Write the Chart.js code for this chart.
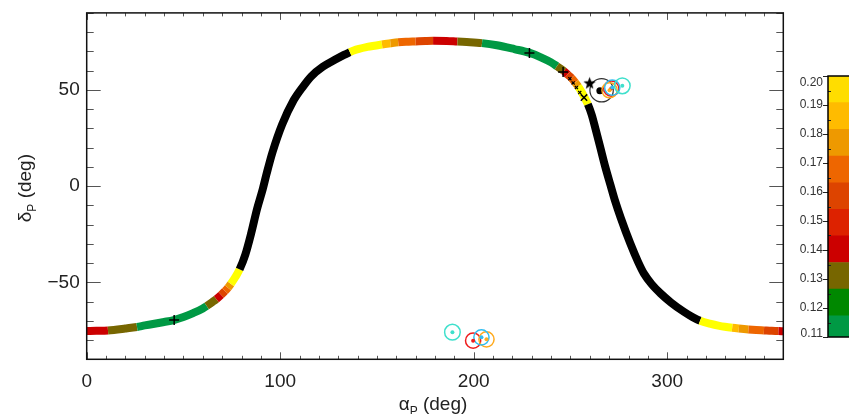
<!DOCTYPE html>
<html><head><meta charset="utf-8">
<script src="https://cdn.jsdelivr.net/npm/chart.js@4/dist/chart.umd.min.js"></script>
<style>
html,body{margin:0;padding:0;background:#fff;overflow:hidden;width:849px;height:414px;}
#wrap{position:relative;width:849px;height:414px;overflow:hidden;background:#fff;}
#main{position:absolute;left:0;top:0;width:849px;height:414px;}
#cbar{position:absolute;left:760px;top:0;width:120px;height:414px;}
</style></head><body>
<div id="wrap">
<canvas id="main" width="849" height="414"></canvas>
<canvas id="cbar" width="120" height="414"></canvas>
</div>
<script>
// ---------- data ----------
const xTicks = [0, 100, 200, 300];
const yTicks = [-50, 0, 50];

// trajectory centre line (alpha_P, delta_P) and colour-coded value (null = black)
const curveAlpha = [0, 5, 11, 20, 26, 30, 40, 45, 50, 55, 60, 62, 65, 67, 69.5, 71.5, 73, 74.5, 77, 79,
  82, 85, 88, 91, 93, 96, 101, 107, 112, 116, 122, 128, 133, 136, 138, 145, 152.6, 157, 161, 165,
  170, 175, 179, 186, 191.6, 198, 204.3, 212, 221, 229, 235, 240, 243, 246.6, 248.5, 250.5, 252.5, 254, 256, 259,
  261, 263, 265.5, 268, 270.7, 273, 276, 281, 285, 288, 292, 296.6, 302, 308.6, 313, 317, 322, 327, 333.6, 337,
  342, 346, 350, 354, 357.5, 360];
const curveDelta = [-75.3, -75.2, -75.0, -74.0, -73.2, -72.4, -70.6, -69.6, -68.0, -66.0, -63.6, -62.3, -60.2, -58.7, -56.5, -54.5, -52.8, -50.8, -47.0, -43.3,
  -35.5, -24.5, -12.0, -1.5, 6.5, 17.5, 32.0, 44.7, 52.0, 57.0, 62.0, 65.5, 68.2, 69.6, 70.5, 72.3, 73.6, 74.2, 74.7, 75.0,
  75.2, 75.4, 75.5, 75.4, 75.1, 74.8, 74.3, 73.2, 71.2, 69.2, 66.8, 64.3, 62.3, 59.8, 58.0, 56.2, 53.8, 51.8, 48.5, 42.5,
  37.0, 29.5, 19.8, 10.0, 0.5, -7.5, -16.5, -30.0, -39.5, -45.5, -51.0, -55.8, -60.5, -65.3, -68.0, -70.0, -71.5, -72.6, -73.6, -74.0,
  -74.5, -74.8, -75.0, -75.2, -75.3, -75.4];
const curveValue = [0.14, 0.14, 0.13, 0.13, 0.114, 0.114, 0.114, 0.114, 0.114, 0.114, 0.114, 0.13, 0.13, 0.14, 0.16, 0.168, 0.177, 0.205, 0.205, null,
  null, null, null, null, null, null, null, null, null, null, null, null, null, 0.205, 0.205, 0.205, 0.186, 0.177, 0.168, 0.168,
  0.16, 0.16, 0.14, 0.14, 0.13, 0.13, 0.114, 0.114, 0.114, 0.114, 0.114, 0.114, 0.13, 0.14, 0.16, 0.168, 0.177, 0.205, 0.205, null,
  null, null, null, null, null, null, null, null, null, null, null, null, null, null, null, 0.205, 0.205, 0.205, 0.186, 0.177,
  0.168, 0.168, 0.16, 0.16, 0.14, 0.14];

// markers
const plusAlpha = [45.2, 228.8, 246.2];
const plusDelta = [-69.6, 69.2, 59.3];
const smallXAlpha = [249.7, 251.4, 253.1, 254.8];
const smallXDelta = [55.8, 53.6, 51.2, 48.6];
const bigXAlpha = [257.0];
const bigXDelta = [46.0];
const starAlpha = [259.9];
const starDelta = [53.6];
const blackRingAlpha = [266.1];
const blackRingDelta = [49.8];
const blackDotAlpha = [265.2];
const blackDotDelta = [49.6];
const turqAlpha = [276.8, 189.0];
const turqDelta = [52.1, -75.9];
const redAlpha = [271.1, 199.7];
const redDelta = [50.7, -80.3];
const skyAlpha = [271.6, 204.0];
const skyDelta = [51.2, -78.6];
const orangeAlpha = [270.2, 206.6];
const orangeDelta = [49.8, -79.6];

// colour bar
const cbEdges = [0.11, 0.1173, 0.1265, 0.1357, 0.1449, 0.1540, 0.1632, 0.1724, 0.1816, 0.1908, 0.20];
const cbColors = ['#009944', '#008800', '#776600', '#CC0000', '#DD2200', '#DD4400', '#EE6600', '#EE9900', '#FFBB00', '#FFDD00'];
const cbTicks = [0.11, 0.12, 0.13, 0.14, 0.15, 0.16, 0.17, 0.18, 0.19, 0.20];
const cbTickLabels = ['0.11', '0.12', '0.13', '0.14', '0.15', '0.16', '0.17', '0.18', '0.19', '0.20'];

// ---------- helpers ----------
const pts = (xs, ys) => xs.map((x, i) => ({x: x, y: ys[i]}));
function colorFor(v) {
  if (v === null || v === undefined) return '#000000';
  if (v > cbEdges[cbEdges.length - 1]) return '#FFFF00';
  for (let i = 0; i < cbColors.length; i++) {
    if (v >= cbEdges[i] && v < cbEdges[i + 1]) return cbColors[i];
  }
  return cbColors[0];
}
function makeStar(r) {
  const c = document.createElement('canvas');
  const s = Math.ceil(r * 2 + 2);
  c.width = s; c.height = s;
  const g = c.getContext('2d');
  g.translate(s / 2, s / 2 + 0.5);
  g.beginPath();
  for (let i = 0; i < 10; i++) {
    const rr = i % 2 ? r * 0.42 : r;
    const a = -Math.PI / 2 + i * Math.PI / 5;
    g.lineTo(rr * Math.cos(a), rr * Math.sin(a));
  }
  g.closePath();
  g.fillStyle = '#000';
  g.fill();
  return c;
}

const FONT = 'Liberation Sans, Arial, Helvetica, sans-serif';
const TURQ = '#3FE0CC', RED = '#EE1C1C', SKY = '#30BDF0', ORANGE = '#FFAA1E';

function drawSubTitle(ctx, greek, sub, rest, cx, baseline) {
  ctx.font = '19px ' + FONT;
  const w1 = ctx.measureText(greek).width;
  const w3 = ctx.measureText(rest).width;
  ctx.font = '12px ' + FONT;
  const w2 = ctx.measureText(sub).width;
  const total = w1 + w2 + w3;
  let x = cx - total / 2;
  ctx.textAlign = 'left';
  ctx.textBaseline = 'alphabetic';
  ctx.fillStyle = '#222';
  ctx.font = '19px ' + FONT;
  ctx.fillText(greek, x, baseline);
  x += w1;
  ctx.font = '12px ' + FONT;
  ctx.fillText(sub, x, baseline + 5);
  x += w2;
  ctx.font = '19px ' + FONT;
  ctx.fillText(rest, x, baseline);
}

const framePlugin = {
  id: 'frame',
  afterDraw(chart) {
    const {ctx, chartArea: a, scales: {x, y}} = chart;
    ctx.save();
    ctx.strokeStyle = '#555';
    ctx.lineWidth = 1;
    ctx.beginPath();
    for (let v = 0; v <= 360; v += 10) {
      const px = Math.round(x.getPixelForValue(v)) + 0.5;
      const L = v % 100 === 0 ? 7 : 3.5;
      ctx.moveTo(px, a.bottom); ctx.lineTo(px, a.bottom - L);
      ctx.moveTo(px, a.top); ctx.lineTo(px, a.top + L);
    }
    for (let v = -90; v <= 90; v += 10) {
      const py = Math.round(y.getPixelForValue(v)) + 0.5;
      const L = v % 50 === 0 ? 14 : 7;
      ctx.moveTo(a.left, py); ctx.lineTo(a.left + L, py);
      ctx.moveTo(a.right, py); ctx.lineTo(a.right - L, py);
    }
    ctx.stroke();
    ctx.strokeStyle = '#111';
    ctx.lineWidth = 1.5;
    ctx.strokeRect(a.left, a.top, a.right - a.left, a.bottom - a.top);
    // axis titles
    drawSubTitle(ctx, '\u03B1', 'P', ' (deg)', (a.left + a.right) / 2 - 2, 410);
    ctx.save();
    ctx.translate(31, (a.top + a.bottom) / 2 + 2);
    ctx.rotate(-Math.PI / 2);
    drawSubTitle(ctx, '\u03B4', 'P', ' (deg)', 0, 0);
    ctx.restore();
    ctx.restore();
  }
};

const tickFont = {family: FONT, size: 19};

new Chart(document.getElementById('main'), {
  type: 'line',
  data: {
    datasets: [
      {data: pts(plusAlpha, plusDelta), showLine: false, pointStyle: 'cross', pointRadius: 5, borderColor: '#000', borderWidth: 1.5, order: 0},
      {data: pts(bigXAlpha, bigXDelta), showLine: false, pointStyle: 'crossRot', pointRadius: 4.5, borderColor: '#000', borderWidth: 1.5, order: 0},
      {data: pts(smallXAlpha, smallXDelta), showLine: false, pointStyle: 'crossRot', pointRadius: 2.2, borderColor: '#000', borderWidth: 1.2, order: 0},
      {data: pts(starAlpha, starDelta), showLine: false, pointStyle: makeStar(6.5), pointRadius: 6, order: 0},
      {data: pts(turqAlpha, turqDelta), showLine: false, pointStyle: 'circle', pointRadius: 2, backgroundColor: TURQ, borderColor: TURQ, borderWidth: 0, order: 0},
      {data: pts(skyAlpha, skyDelta), showLine: false, pointStyle: 'circle', pointRadius: 2, backgroundColor: SKY, borderColor: SKY, borderWidth: 0, order: 0},
      {data: pts(orangeAlpha, orangeDelta), showLine: false, pointStyle: 'circle', pointRadius: 2, backgroundColor: ORANGE, borderColor: ORANGE, borderWidth: 0, order: 0},
      {data: pts(redAlpha, redDelta), showLine: false, pointStyle: 'circle', pointRadius: 2, backgroundColor: RED, borderColor: RED, borderWidth: 0, order: 0},
      {data: pts(turqAlpha, turqDelta), showLine: false, pointStyle: 'circle', pointRadius: 7.8, backgroundColor: 'rgba(0,0,0,0)', borderColor: TURQ, borderWidth: 1.5, order: 0},
      {data: pts(skyAlpha, skyDelta), showLine: false, pointStyle: 'circle', pointRadius: 7.6, backgroundColor: 'rgba(0,0,0,0)', borderColor: SKY, borderWidth: 1.5, order: 0},
      {data: pts(orangeAlpha, orangeDelta), showLine: false, pointStyle: 'circle', pointRadius: 7.6, backgroundColor: 'rgba(0,0,0,0)', borderColor: ORANGE, borderWidth: 1.5, order: 0},
      {data: pts(redAlpha, redDelta), showLine: false, pointStyle: 'circle', pointRadius: 7.6, backgroundColor: 'rgba(0,0,0,0)', borderColor: RED, borderWidth: 1.5, order: 0},
      {data: pts(blackDotAlpha, blackDotDelta), showLine: false, pointStyle: 'circle', pointRadius: 3.5, backgroundColor: '#000', borderColor: '#000', borderWidth: 0, order: 0},
      {data: pts(blackRingAlpha, blackRingDelta), showLine: false, pointStyle: 'circle', pointRadius: 11.7, backgroundColor: 'rgba(0,0,0,0)', borderColor: '#333', borderWidth: 1.2, order: 0},
      {
        data: pts(curveAlpha, curveDelta),
        borderColor: '#000',
        borderWidth: 8,
        borderCapStyle: 'butt',
        borderJoinStyle: 'round',
        pointRadius: 0,
        cubicInterpolationMode: 'monotone',
        clip: 0,
        order: 100,
        segment: {borderColor: ctx => colorFor(curveValue[ctx.p0DataIndex])}
      }
    ]
  },
  options: {
    responsive: false,
    animation: false,
    devicePixelRatio: 1,
    events: [],
    layout: {padding: {left: 0, right: 65.7, top: 11, bottom: 0}},
    plugins: {legend: {display: false}, tooltip: {enabled: false}},
    scales: {
      x: {
        type: 'linear', min: 0, max: 360,
        afterBuildTicks: s => { s.ticks = xTicks.map(v => ({value: v})); },
        afterFit: s => { s.height = 54.7; s.paddingLeft = 0; s.paddingRight = 0; },
        grid: {display: false, drawTicks: false},
        border: {display: false},
        ticks: {padding: 11, font: tickFont, color: '#222', maxRotation: 0, autoSkip: false}
      },
      y: {
        type: 'linear', min: -90, max: 90,
        afterBuildTicks: s => { s.ticks = yTicks.map(v => ({value: v})); },
        afterFit: s => { s.width = 86.7; s.paddingTop = 0; s.paddingBottom = 0; },
        grid: {display: false, drawTicks: false},
        border: {display: false},
        ticks: {padding: 7, font: tickFont, color: '#222', callback: v => (v < 0 ? '\u2212' + Math.abs(v) : String(v))}
      }
    }
  },
  plugins: [framePlugin]
});

// ---------- colour bar ----------
const cbPlugin = {
  id: 'cbframe',
  afterDraw(chart) {
    const {ctx, chartArea: a, scales: {y}} = chart;
    ctx.save();
    ctx.strokeStyle = '#222';
    ctx.lineWidth = 1;
    ctx.beginPath();
    cbTicks.forEach(v => {
      const py = Math.round(y.getPixelForValue(v)) + 0.5;
      ctx.moveTo(a.left - 5, py); ctx.lineTo(a.left, py);
    });
    for (let i = 0; i < cbTicks.length - 1; i++) {
      const py = Math.round(y.getPixelForValue((cbTicks[i] + cbTicks[i + 1]) / 2)) + 0.5;
      ctx.moveTo(a.left, py); ctx.lineTo(a.left + 3, py);
    }
    ctx.stroke();
    ctx.strokeStyle = '#000';
    ctx.lineWidth = 1.5;
    ctx.strokeRect(a.left, a.top, a.right - a.left, a.bottom - a.top);
    ctx.fillStyle = '#333';
    ctx.font = '12px ' + FONT;
    ctx.textAlign = 'right';
    ctx.textBaseline = 'middle';
    cbTicks.forEach((v, i) => {
      let py = y.getPixelForValue(v);
      py = Math.max(py, a.top + 7);
      py = Math.min(py, a.bottom - 3);
      ctx.fillText(cbTickLabels[i], a.left - 5, py);
    });
    ctx.restore();
  }
};

new Chart(document.getElementById('cbar'), {
  type: 'bar',
  data: {
    labels: [''],
    datasets: cbColors.map((c, i) => ({
      data: [[cbEdges[i], cbEdges[i + 1]]],
      backgroundColor: c,
      borderWidth: 0,
      barPercentage: 1,
      categoryPercentage: 1,
      grouped: false
    }))
  },
  options: {
    responsive: false,
    animation: false,
    devicePixelRatio: 1,
    events: [],
    layout: {padding: {top: 76, bottom: 77, left: 0, right: 12}},
    plugins: {legend: {display: false}, tooltip: {enabled: false}},
    scales: {
      x: {display: false},
      y: {
        min: 0.11, max: 0.20,
        afterFit: s => { s.width = 68; s.paddingTop = 0; s.paddingBottom = 0; },
        ticks: {display: false},
        grid: {display: false, drawTicks: false},
        border: {display: false}
      }
    }
  },
  plugins: [cbPlugin]
});
</script>
</body></html>
